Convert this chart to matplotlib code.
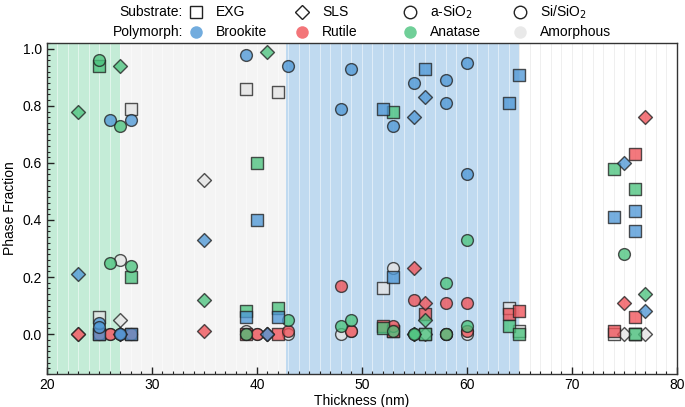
import numpy as np
import matplotlib
matplotlib.use("Agg")
import matplotlib.pyplot as plt
from matplotlib.lines import Line2D
from matplotlib.ticker import MultipleLocator, FormatStrFormatter

plt.rcParams["font.family"] = ["Liberation Sans", "DejaVu Sans"]
plt.rcParams["font.size"] = 10

nan = np.nan

# EXG substrate (squares)
exg_x = [25, 28, 39, 40, 42, 52, 53, 56, 64, 65, 74, 76, 76]
exg_brookite = [0.00, 0.00, 0.06, 0.40, 0.06, 0.79, 0.20, 0.93, 0.81, 0.91, 0.41, 0.36, 0.43]
exg_rutile = [0.00, 0.00, 0.00, nan, 0.00, 0.03, 0.01, 0.07, 0.07, 0.08, 0.01, 0.63, 0.06]
exg_anatase = [0.94, 0.20, 0.08, 0.60, 0.09, 0.02, 0.78, 0.00, 0.03, 0.00, 0.58, 0.00, 0.51]
exg_amorphous = [0.06, 0.79, 0.86, nan, 0.85, 0.16, 0.01, 0.00, 0.09, 0.01, 0.00, 0.00, 0.00]

# SLS substrate (diamonds)
sls_x = [23, 27, 35, 41, 55, 56, 75, 77]
sls_brookite = [0.21, 0.00, 0.33, 0.00, 0.76, 0.83, 0.60, 0.08]
sls_rutile = [0.00, 0.00, 0.01, 0.00, 0.23, 0.11, 0.11, 0.76]
sls_anatase = [0.78, 0.94, 0.12, 0.99, 0.00, 0.05, nan, 0.14]
sls_amorphous = [0.00, 0.05, 0.54, 0.00, 0.00, 0.00, 0.00, 0.00]

# a-SiO2 substrate (circles)
asio_x = [25, 26, 27, 28, 39, 40, 43, 48, 49, 53, 55, 58, 60, 75]
asio_brookite = [0.04, 0.75, 0.00, 0.75, 0.98, nan, 0.94, 0.79, 0.93, 0.73, 0.88, 0.89, 0.95, nan]
asio_rutile = [0.00, 0.00, 0.00, 0.00, 0.00, 0.00, 0.01, 0.17, 0.01, 0.03, 0.12, 0.11, 0.01, nan]
asio_anatase = [0.96, 0.25, 0.73, 0.24, 0.00, nan, 0.05, 0.03, 0.05, 0.01, 0.00, 0.00, 0.03, 0.28]
asio_amorphous = [0.00, 0.00, 0.26, 0.00, 0.01, 0.00, 0.00, 0.00, 0.01, 0.23, 0.00, 0.00, 0.01, nan]

# Si/SiO2 substrate (circles)
sisio_x = [25, 58, 60]
sisio_brookite = [0.025, 0.81, 0.56]
sisio_rutile = [nan, 0.00, 0.11]
sisio_anatase = [nan, 0.18, 0.33]
sisio_amorphous = [nan, 0.00, 0.00]

phase_names = ["Brookite", "Rutile", "Anatase", "Amorphous"]
phase_colors = ["#4f98d6", "#f05258", "#4cc37e", "#e4e4e4"]
draw_order = [3, 1, 2, 0]  # amorphous first, brookite on top
substrate_names = ["EXG", "SLS", "a-SiO$_2$", "Si/SiO$_2$"]
substrate_markers = ["s", "D", "o", "o"]

# shaded regions
region_edges = [20, 27, 42.8, 65, 80]
region_colors = ["#c4ecd7", "#f4f4f4", "#c0daf0", "#ffffff"]

data = [
    (exg_x, [exg_brookite, exg_rutile, exg_anatase, exg_amorphous]),
    (sls_x, [sls_brookite, sls_rutile, sls_anatase, sls_amorphous]),
    (asio_x, [asio_brookite, asio_rutile, asio_anatase, asio_amorphous]),
    (sisio_x, [sisio_brookite, sisio_rutile, sisio_anatase, sisio_amorphous]),
]

fig = plt.figure(figsize=(6.85, 4.07), dpi=100)
ax = fig.add_axes([0.0686, 0.081, 0.9194, 0.813])

for i in range(len(region_colors)):
    ax.axvspan(region_edges[i], region_edges[i + 1], color=region_colors[i], lw=0, zorder=0)

# faint vertical lines every 1 nm
for xv in range(21, 80):
    if xv < 65:
        ax.axvline(xv, color="white", lw=0.6, alpha=0.6, zorder=0.5)
    else:
        ax.axvline(xv, color="#ececec", lw=0.6, zorder=0.5)

for p in draw_order:
    for k, (xs, phases) in enumerate(data):
        ax.scatter(xs, phases[p], marker=substrate_markers[k],
                   s=72 if substrate_markers[k] != "D" else 50,
                   facecolor=phase_colors[p], edgecolor="#222222", linewidths=1.0,
                   alpha=0.78, zorder=3)

ax.set_xlim(20, 80)
ax.set_ylim(-0.14, 1.02)
ax.xaxis.set_major_locator(MultipleLocator(10))
ax.xaxis.set_minor_locator(MultipleLocator(1))
ax.yaxis.set_major_locator(MultipleLocator(0.2))
ax.yaxis.set_minor_locator(MultipleLocator(0.02))
ax.yaxis.set_major_formatter(FormatStrFormatter("%.1f"))
ax.tick_params(which="both", direction="in", colors="#222222", labelcolor="black")
ax.tick_params(which="major", length=5, width=1)
ax.tick_params(which="minor", length=2.5, width=0.8)
ax.tick_params(axis="x", pad=3)
for sp in ax.spines.values():
    sp.set_color("#333333")
    sp.set_linewidth(1)
ax.set_xlabel("Thickness (nm)", labelpad=1)
ax.set_ylabel("Phase Fraction", labelpad=4)

# legend rows drawn in figure coordinates
W, H = 685.0, 407.0
col_px = [196, 302, 410, 520]
row_py = [12, 32]
fig.text(183 / W, 1 - row_py[0] / H, "Substrate:", ha="right", va="center", fontsize=10)
fig.text(183 / W, 1 - row_py[1] / H, "Polymorph:", ha="right", va="center", fontsize=10)
for j in range(4):
    fig.add_artist(Line2D([col_px[j] / W], [1 - row_py[0] / H], transform=fig.transFigure,
                          marker=substrate_markers[j], ms=9 if substrate_markers[j] != "D" else 7.5,
                          mfc="white", mec="#222222", mew=1.0, ls="none"))
    fig.text((col_px[j] + 20) / W, 1 - row_py[0] / H, substrate_names[j], ha="left", va="center", fontsize=10)
    fig.add_artist(Line2D([col_px[j] / W], [1 - row_py[1] / H], transform=fig.transFigure,
                          marker="o", ms=9, mfc=phase_colors[j], mec="none", alpha=0.8, ls="none"))
    fig.text((col_px[j] + 20) / W, 1 - row_py[1] / H, phase_names[j], ha="left", va="center", fontsize=10)

fig.savefig("out.png", dpi=100)
